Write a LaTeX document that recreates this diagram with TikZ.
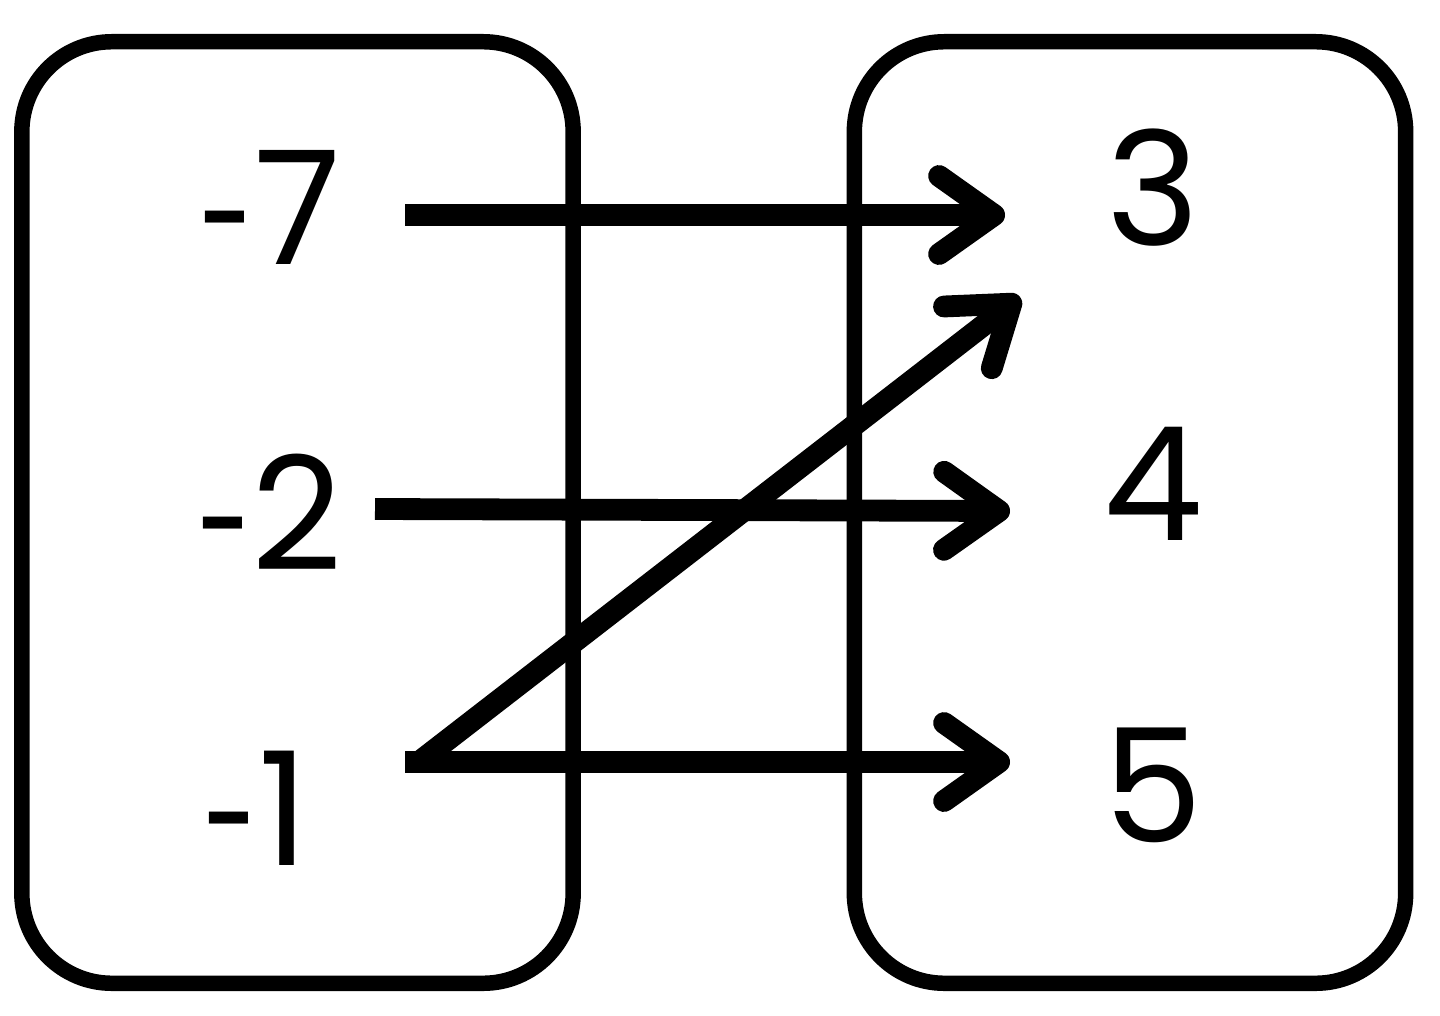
\documentclass[tikz,border=0pt]{standalone}
\usepackage{fontspec}
\setmainfont{Poppins}
\newfontfamily\hyfont{Lato}
\newcommand{\hy}{{\hyfont -}}
\usetikzlibrary{arrows.meta}
\begin{document}
\begin{tikzpicture}[x=0.01cm,y=-0.01cm,
  setbox/.style={draw=black,line width=4.4pt,rounded corners=0.9cm,minimum width=5.51cm,minimum height=9.41cm,inner sep=0pt},
  num/.style={inner sep=0pt,font=\fontsize{45}{45}\selectfont},
  maparrow/.style={line width=6.2pt,-{Straight Barb[length=0.55cm,width=0.78cm,round]}}]
\useasboundingbox (0,0) rectangle (1440,1015);
\fill[white] (0,0) rectangle (1440,1015);
\node[setbox] (L) at (297.5,512.5) {};
\node[setbox] (R) at (1130,512.5) {};
\node[num] (m7) at (268,207) {\hy7};
\node[num] (m2) at (268,512) {\hy2};
\node[num] (m1) at (254,808) {\hy1};
\node[num] (p3) at (1153,188) {3};
\node[num] (p4) at (1153,484) {4};
\node[num] (p5) at (1153,785) {5};
\coordinate (s7) at (405,215);
\coordinate (s2) at (375,509);
\coordinate (s1) at (405,762);
\coordinate (s1b) at (419,762);
\coordinate (t3) at (1005,215);
\coordinate (t3b) at (1020,297);
\coordinate (t4) at (1010,511);
\coordinate (t5) at (1010,762);
\draw[maparrow] (s7) -- (t3);
\draw[maparrow] (s2) -- (t4);
\draw[maparrow] (s1) -- (t5);
\draw[maparrow] (s1b) -- (t3b);
\end{tikzpicture}
\end{document}
